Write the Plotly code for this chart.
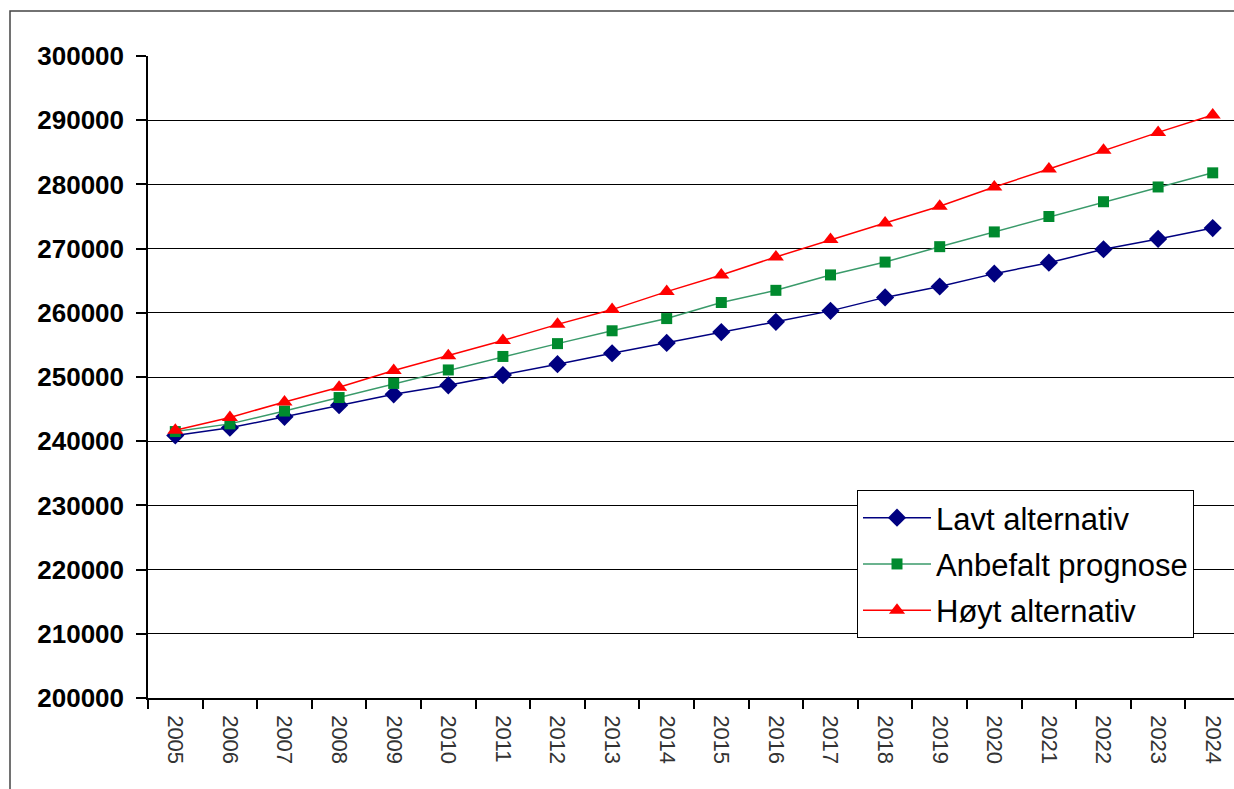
import plotly.graph_objects as go

years = [str(y) for y in range(2005, 2025)]

lavt = [240900, 242100, 243800, 245600, 247300, 248700, 250300, 252000, 253700, 255300,
        257000, 258600, 260300, 262400, 264100, 266100, 267800, 269900, 271500, 273200]
anbefalt = [241500, 242700, 244700, 246800, 249000, 251100, 253200, 255200, 257200, 259100,
            261600, 263500, 265900, 267900, 270300, 272600, 275000, 277300, 279600, 281800]
hoyt = [241700, 243700, 246100, 248400, 251000, 253300, 255700, 258200, 260500, 263300,
        265900, 268700, 271400, 274000, 276600, 279600, 282400, 285300, 288100, 290800]

y_ticks = list(range(200000, 300001, 10000))

fig = go.Figure()

series = [
    ("Lavt alternativ", lavt, "#000080", "#000080", "diamond", 14),
    ("Anbefalt prognose", anbefalt, "#3a9a6a", "#008a2e", "square", 11),
    ("Høyt alternativ", hoyt, "#ff0000", "#ff0000", "triangle-up", 14),
]
for i, (name, vals, lc, mc, sym, sz) in enumerate(series):
    fig.add_trace(go.Scatter(
        x=years, y=vals, name=name, mode="lines+markers",
        line=dict(color=lc, width=1.5),
        marker=dict(symbol=sym, size=sz, color=mc, line=dict(width=0)),
        legendgroup=f"g{i}",
    ))

fig.update_layout(
    width=1234, height=789,
    margin=dict(l=148, r=0, t=56, b=91),
    paper_bgcolor="white", plot_bgcolor="white",
    font=dict(family="Liberation Sans, Arial, sans-serif", color="black"),
    showlegend=True,
    legend=dict(
        x=(857 - 148) / 1086, y=1 - (490 - 56) / 642, xanchor="left", yanchor="top",
        bordercolor="black", borderwidth=1, bgcolor="white",
        font=dict(size=31, color="black"),
        tracegroupgap=3, itemwidth=68,
    ),
    xaxis=dict(
        type="category", range=[-0.5, 19.39],
        showgrid=False, showline=True, linecolor="black", linewidth=1.5,
        ticks="outside", ticklen=9, tickcolor="black", tickwidth=1.5,
        tickson="boundaries", tickangle=90, ticklabelstandoff=11,
        tickfont=dict(size=22, color="#333"),
        zeroline=False,
    ),
    yaxis=dict(
        range=[200000, 300000], tickvals=y_ticks,
        ticktext=[str(v) for v in y_ticks],
        showgrid=True, gridcolor="black", gridwidth=1.2,
        showline=True, linecolor="black", linewidth=1.5,
        ticks="outside", ticklen=10, tickcolor="black", tickwidth=1.5,
        ticklabelstandoff=7,
        tickfont=dict(size=26, family="Liberation Sans, Arial, sans-serif", color="black", weight="bold"),
        zeroline=False,
    ),
)

# outer frame around the whole chart
fig.add_shape(type="rect", xref="paper", yref="paper",
              x0=(10 - 148) / 1086, x1=1.05,
              y0=-0.2, y1=1 + (56 - 11) / 642,
              line=dict(color="#444", width=1.5), layer="below")

fig.write_html("out.html")
